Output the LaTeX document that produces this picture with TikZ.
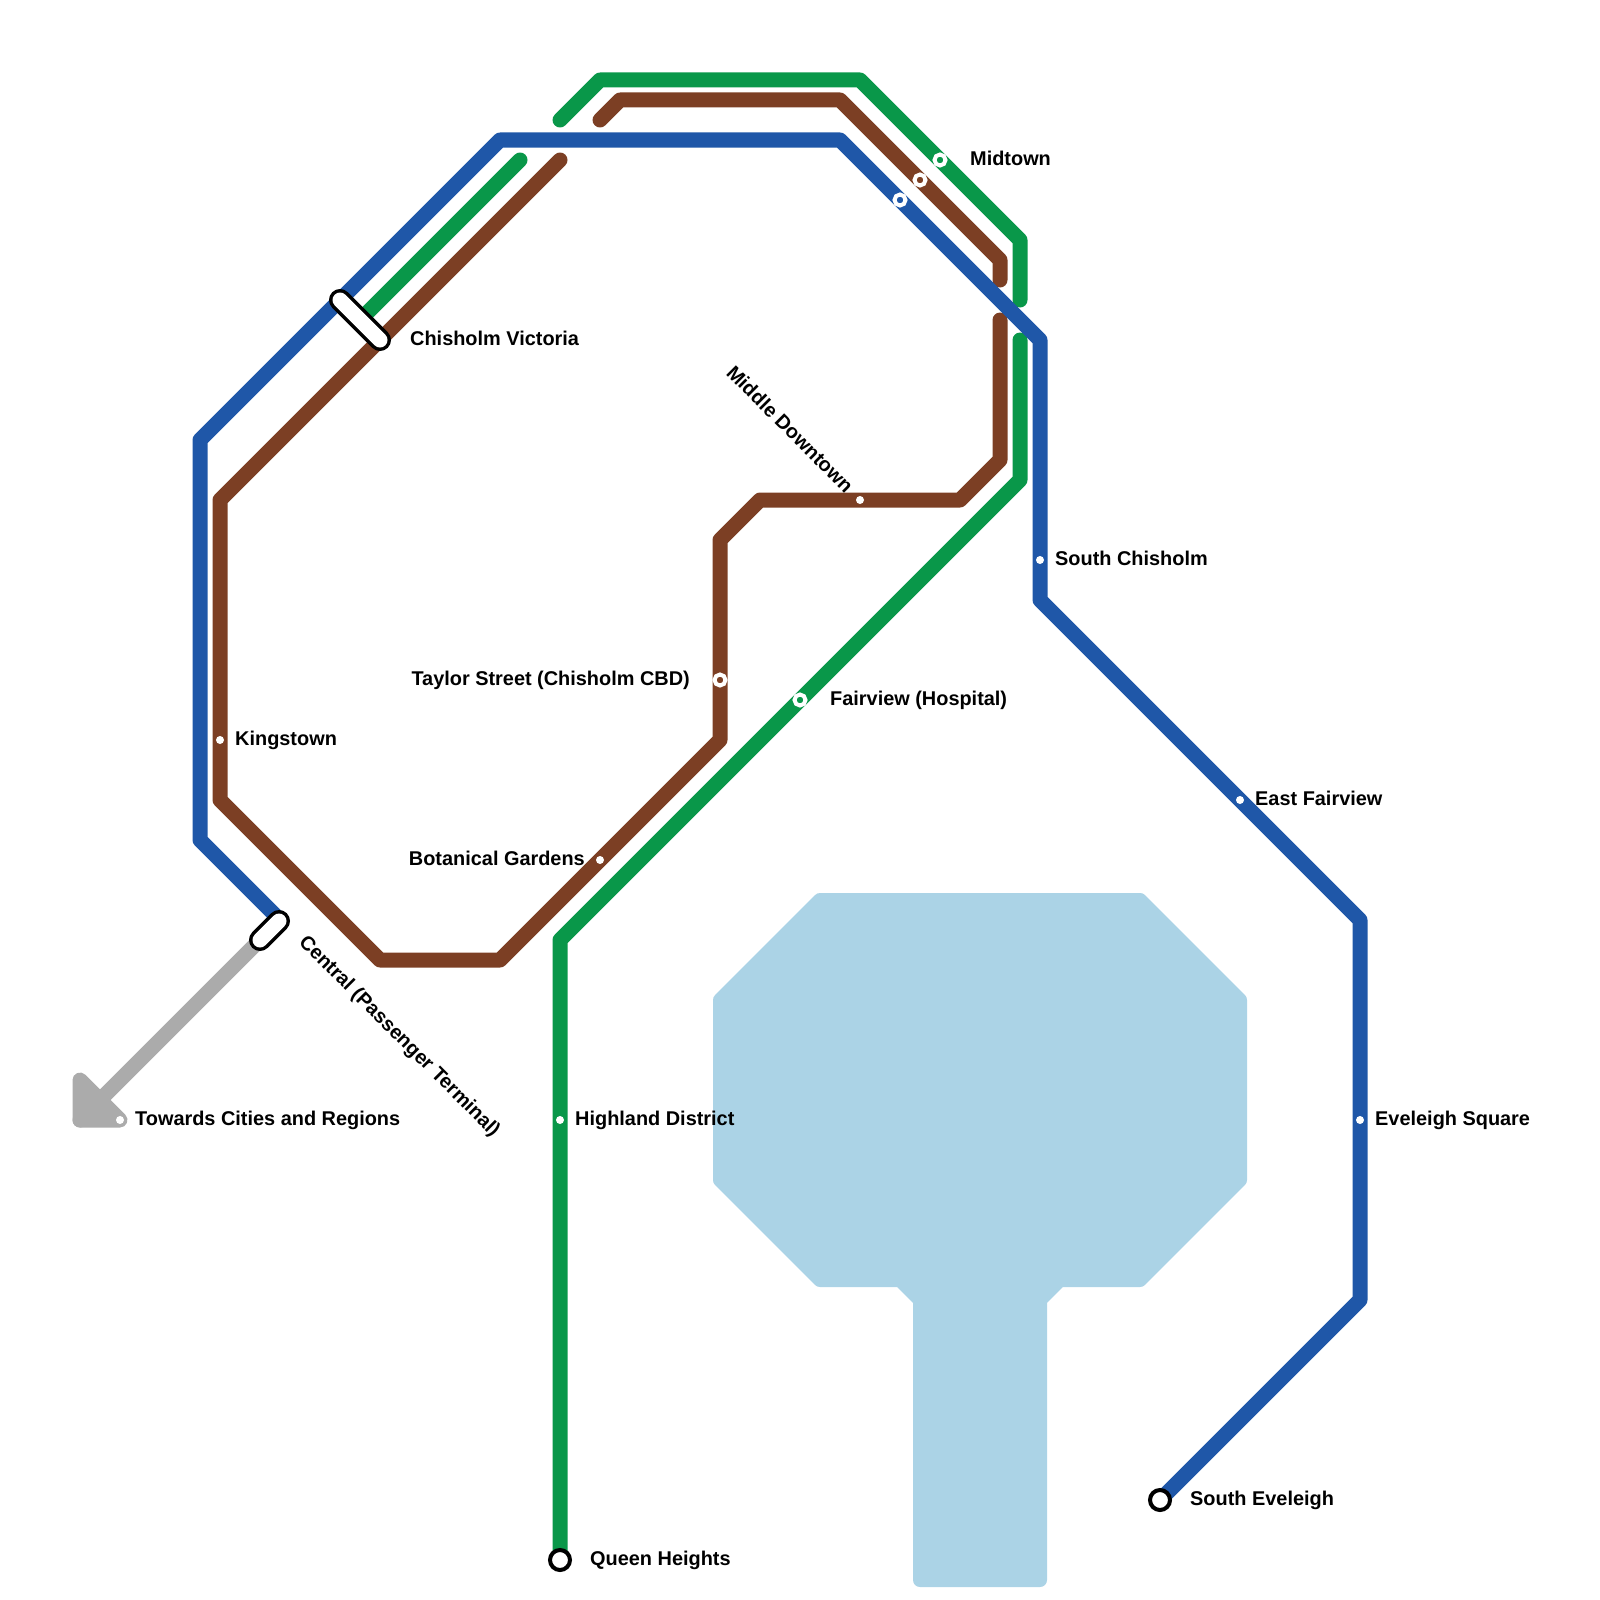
\documentclass[tikz,border=0pt]{standalone}
\usepackage{fontspec}
\setmainfont{Liberation Sans}[BoldFont={Liberation Sans Bold}]
\definecolor{lblue}{HTML}{1F57A8}
\definecolor{lgreen}{HTML}{099749}
\definecolor{lbrown}{HTML}{7C3F24}
\definecolor{lgrey}{HTML}{ABABAB}
\definecolor{water}{HTML}{ABD3E6}
\tikzset{
  metro/.style={line width=15pt,line join=round,line cap=round},
  ring/.style={circle,inner sep=0pt,minimum size=11pt,draw=white,line width=4pt,fill=#1},
  dotstn/.style={circle,inner sep=0pt,minimum size=8pt,fill=white},
  term/.style={circle,inner sep=0pt,minimum size=20pt,draw=black,line width=4pt,fill=white},
  lab/.style={inner sep=0pt,font=\fontsize{19.9pt}{24pt}\selectfont\bfseries,text=black},
}
\begin{document}
\begin{tikzpicture}[x=1pt,y=-1pt]
\useasboundingbox (0,0) rectangle (1600,1600);
% water
\fill[water,draw=water,line width=14pt,line join=round] (820,900)--(1140,900)--(1240,1000)--(1240,1180)--(1140,1280)--(1060,1280)--(1040,1300)--(1040,1580)--(920,1580)--(920,1300)--(900,1280)--(820,1280)--(720,1180)--(720,1000)--cycle;
% anchors
\coordinate (pillCa) at (279,921);
\coordinate (pillCb) at (260,940);
\coordinate (pillVa) at (340,300);
\coordinate (pillVb) at (380,340);
\coordinate (pillVm) at (360,320);
\coordinate (qh) at (560,1560);
\coordinate (se) at (1160,1500);
\coordinate (tw) at (120,1120);
% grey
\fill[lgrey,draw=lgrey,line width=15pt,line join=round] (80,1080)--(80,1120)--(tw)--cycle;
\draw[metro,lgrey] (pillCb)--(80,1120);
% green
\draw[metro,lgreen] (560,120)--(600,80)--(860,80)--(1020,240)--(1020,300);
\draw[metro,lgreen] (1020,340)--(1020,480)--(560,940)--(qh);
\draw[metro,lgreen] (520,160)--(pillVm);
% brown
\draw[metro,lbrown] (600,120)--(620,100)--(840,100)--(1000,260)--(1000,280);
\draw[metro,lbrown] (1000,320)--(1000,460)--(960,500)--(760,500)--(720,540)--(720,740)--(500,960)--(380,960)--(220,800)--(220,500)--(560,160);
% blue
\draw[metro,lblue] (se)--(1360,1300)--(1360,920)--(1040,600)--(1040,340)--(840,140)--(500,140)--(200,440)--(200,840)--(280,920);
% interchange pills
\draw[line width=22pt,line cap=round,black] (pillVa)--(pillVb);
\draw[line width=15pt,line cap=round,white] (pillVa)--(pillVb);
\draw[line width=22pt,line cap=round,black] (pillCa)--(pillCb);
\draw[line width=15pt,line cap=round,white] (pillCa)--(pillCb);
% stations
\node[ring=lgreen] (midg) at (940,160) {};
\node[ring=lbrown] (midb) at (920,180) {};
\node[ring=lblue] (midl) at (900,200) {};
\node[ring=lbrown] (tay) at (720,680) {};
\node[ring=lgreen] (fv) at (800,700) {};
\node[dotstn] (mdt) at (860,500) {};
\node[dotstn] (sch) at (1040,560) {};
\node[dotstn] (efv) at (1240,800) {};
\node[dotstn] (evs) at (1360,1120) {};
\node[dotstn] (kng) at (220,740) {};
\node[dotstn] (bot) at (600,860) {};
\node[dotstn] (hld) at (560,1120) {};
\node[dotstn] (twd) at (tw) {};
\node[term] (qhs) at (qh) {};
\node[term] (ses) at (se) {};
% labels
\node[lab,anchor=base west] (l1) at (135,1125) {Towards Cities and Regions};
\node[lab,anchor=base west] (l2) at (235,745) {Kingstown};
\node[lab,anchor=base west] (l3) at (410,345) {Chisholm Victoria};
\node[lab,anchor=base west] (l4) at (970,165) {Midtown};
\node[lab,anchor=base west] (l5) at (1055,565) {South Chisholm};
\node[lab,anchor=base west] (l6) at (1255,805) {East Fairview};
\node[lab,anchor=base west] (l7) at (1375,1125) {Eveleigh Square};
\node[lab,anchor=base west] (l8) at (1190,1505) {South Eveleigh};
\node[lab,anchor=base west] (l9) at (590,1565) {Queen Heights};
\node[lab,anchor=base west] (l10) at (575,1125) {Highland District};
\node[lab,anchor=base west] (l11) at (830,705) {Fairview (Hospital)};
\node[lab,anchor=base east] (l12) at (690,685) {Taylor Street (Chisholm CBD)};
\node[lab,anchor=base east] (l13) at (585,865) {Botanical Gardens};
\node[lab,anchor=base east,rotate=-45] (l14) at (845,494) {Middle Downtown};
\node[lab,anchor=base west,rotate=-45] (l15) at (298,943) {Central (Passenger Terminal)};
\end{tikzpicture}
\end{document}
